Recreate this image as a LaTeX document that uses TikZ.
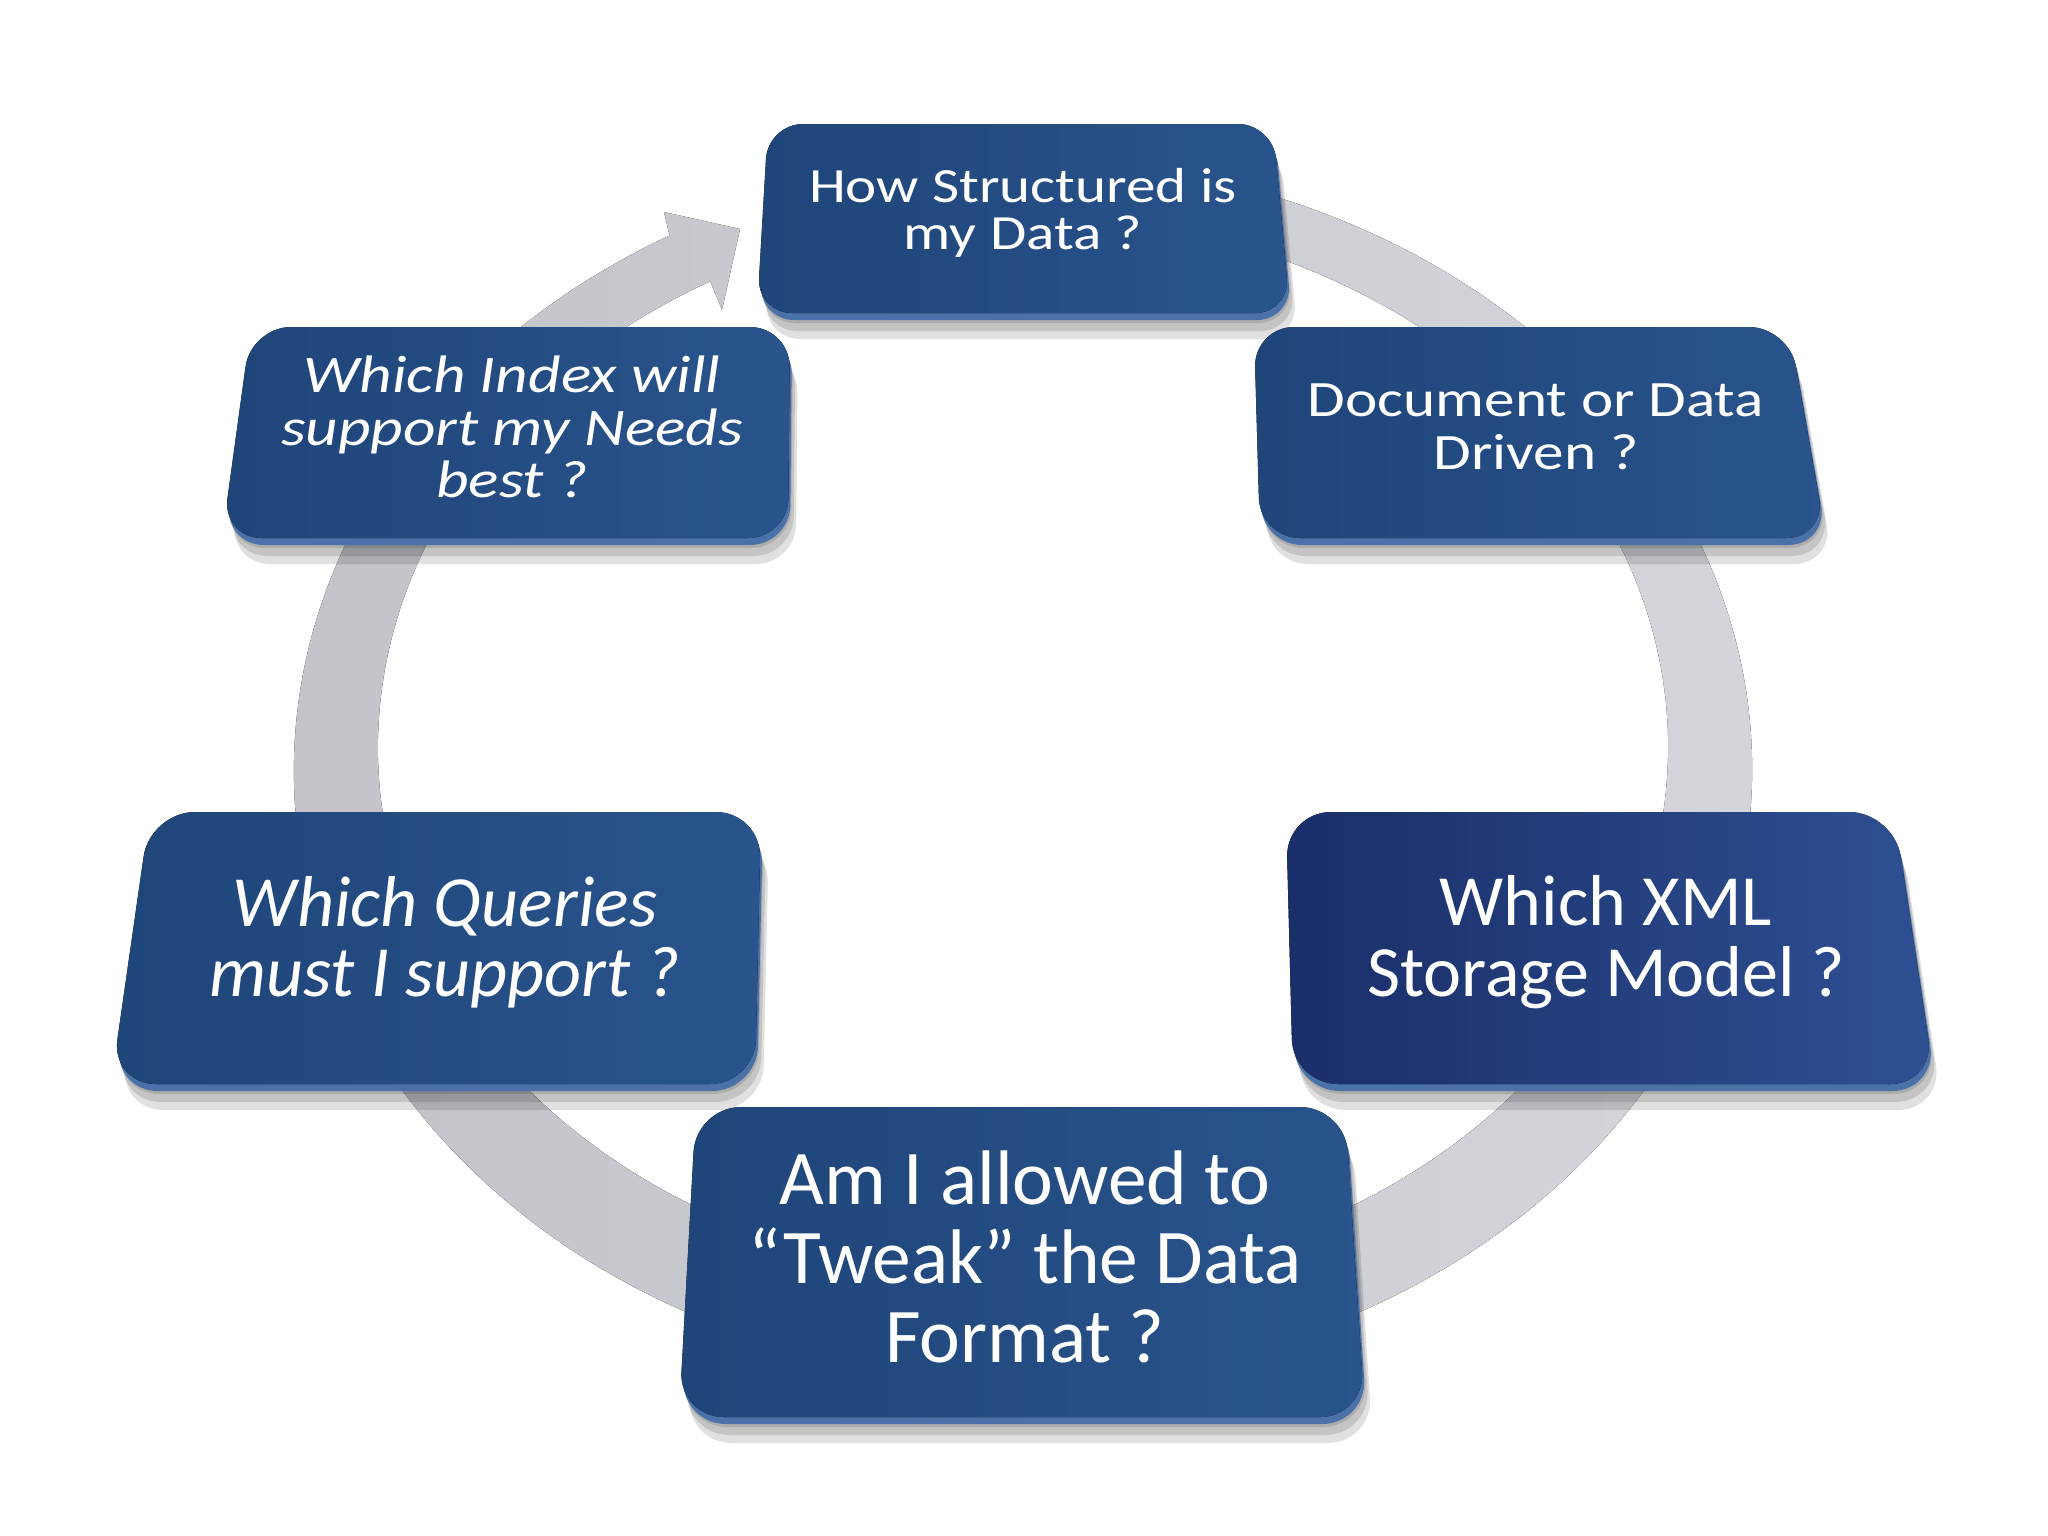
\documentclass[tikz,border=0pt]{standalone}
\usepackage{fontspec}
\setmainfont{Carlito}
\newfontfamily\widefont[FakeStretch=1.2]{Carlito}
\usetikzlibrary{arrows.meta}
\definecolor{boxblue}{HTML}{1F4579}
\definecolor{boxlight}{HTML}{29548C}
\definecolor{navy}{HTML}{1A2E69}
\definecolor{navylight}{HTML}{2E5093}
\definecolor{bevel}{HTML}{4A72A8}
\definecolor{ringdark}{HTML}{C1C3C9}
\definecolor{ringlight}{HTML}{D4D6DB}

% perspective box: face style, corners TL TR BR BL, corner radius
\newcommand{\qbox}[6]{%
  \foreach \s in {10,18,26}
    \fill[boxshadow, shift={(0.3*\s,\s)}, rounded corners=#6] (#2) -- (#3) -- (#4) -- (#5) -- cycle;
  \fill[boxedge, shift={(2,7)}, rounded corners=#6] (#2) -- (#3) -- (#4) -- (#5) -- cycle;
  \fill[#1, rounded corners=#6] (#2) -- (#3) -- (#4) -- (#5) -- cycle;
}

\begin{document}
\begin{tikzpicture}[x=0.01cm, y=-0.01cm,
  ring/.style={left color=ringdark, right color=ringlight},
  boxshadow/.style={fill=black, opacity=0.12},
  boxedge/.style={fill=bevel},
  face/.style={left color=boxblue, right color=boxlight},
  darkface/.style={left color=navy, right color=navylight},
  qtext/.style={text=white, align=center}]

  % page
  \fill[white] (0,0) rectangle (2048,1536);

  % cycle ring, thinner at the far side, ending in the arrow head
  \fill[ring] (1023,770) ++(-80:729 and 611)
    arc[start angle=-80, end angle=241, x radius=729, y radius=611]
    -- (664,212) -- (740,229) -- (722,310) -- (710.3,281.3)
    arc[start angle=241, end angle=-80, x radius=645, y radius=533] -- cycle;

  % question boxes
  \qbox{face}{768,124}{1273,124}{1290,313}{757,313}{0.35cm}
  \qbox{face}{1254,327}{1789,327}{1826,538}{1260,538}{0.4cm}
  \qbox{face}{251,327}{790,327}{788,538}{222,538}{0.4cm}
  \qbox{face}{150,812}{761,812}{755,1084}{111,1084}{0.45cm}
  \qbox{darkface}{1286,812}{1894,812}{1935,1084}{1293,1084}{0.45cm}
  \qbox{face}{696,1107}{1345,1107}{1365,1417}{679,1417}{0.45cm}

  % labels
  \node[qtext, font=\widefont\fontsize{14}{13.5}\selectfont] (structured) at (1023,213)
    {How Structured is\\my Data ?};
  \node[qtext, font=\widefont\fontsize{14.5}{15}\selectfont] (driven) at (1536,427)
    {Document or Data\\Driven ?};
  \node[qtext, font=\widefont\itshape\fontsize{15}{15}\selectfont] (index) at (512,427)
    {Which Index will\\support my Needs\\best ?};
  \node[qtext, font=\itshape\fontsize{20.5}{20}\selectfont] (queries) at (445,942)
    {Which Queries\\must I support ?};
  \node[qtext, font=\fontsize{20.5}{20}\selectfont] (storage) at (1606,942)
    {Which XML\\Storage Model ?};
  \node[qtext, font=\fontsize{22}{22.5}\selectfont] (tweak) at (1025,1257)
    {Am I allowed to\\“Tweak” the Data\\Format ?};
\end{tikzpicture}
\end{document}
